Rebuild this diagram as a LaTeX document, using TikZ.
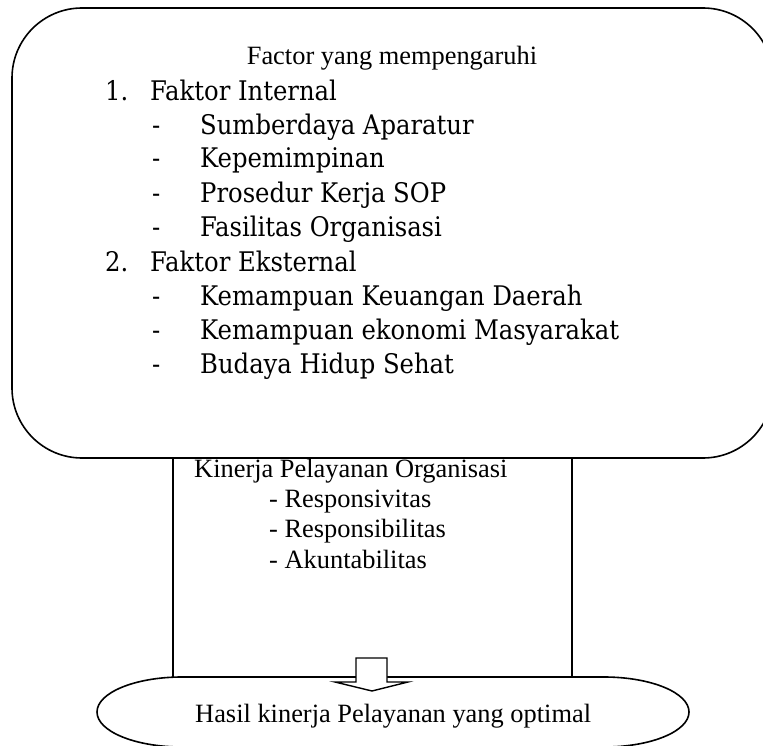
\documentclass[tikz,border=0pt]{standalone}
\usepackage{fontspec}
\setmainfont{Liberation Serif}
\newfontfamily\listfont{DejaVu Serif Condensed}
\begin{document}
\begin{tikzpicture}[x=1pt,y=-1pt,
  shapeline/.style={line width=1.6pt, draw=black},
  timestext/.style={inner sep=0pt, font=\fontsize{26.4}{30}\selectfont},
  listtext/.style={inner sep=0pt, anchor=base west, font=\listfont\fontsize{27}{32}\selectfont}]
\useasboundingbox (0,0) rectangle (763,746);
% performance box (side lines)
\draw[shapeline] (173,440) -- (173,677) (572,440) -- (572,677);
% factor rounded box
\draw[shapeline, fill=white, rounded corners=70pt] (12,8) rectangle (773,458);
% result terminator shape
\draw[shapeline, fill=white] (182,677) -- (604,677)
  arc[start angle=90, end angle=-90, x radius=85pt, y radius=35pt]
  -- (182,747)
  arc[start angle=270, end angle=90, x radius=85pt, y radius=35pt] -- cycle;
% block arrow
\draw[shapeline, fill=white, line width=1.4pt] (356,658) -- (387,658) -- (387,682) -- (408,682)
  -- (372,691) -- (335,682) -- (356,682) -- cycle;
% texts
\node[timestext, anchor=base] (title) at (392,65) {Factor yang mempengaruhi};
\node[listtext] (n1) at (105,101) {1.};
\node[listtext] (f1) at (150,101) {Faktor Internal};
\foreach \yy/\tt [count=\i] in {135/Sumberdaya Aparatur,168/Kepemimpinan,202.5/Prosedur Kerja SOP,236.5/Fasilitas Organisasi}{
  \node[listtext] (d1\i) at (152,\yy) {-};
  \node[listtext] (i1\i) at (200,\yy) {\tt};
}
\node[listtext] (n2) at (105,271.5) {2.};
\node[listtext] (f2) at (150,271.5) {Faktor Eksternal};
\foreach \yy/\tt [count=\i] in {305/Kemampuan Keuangan Daerah,339/Kemampuan ekonomi Masyarakat,373/Budaya Hidup Sehat}{
  \node[listtext] (d2\i) at (152,\yy) {-};
  \node[listtext] (i2\i) at (200,\yy) {\tt};
}
\node[timestext, anchor=base west] (kin) at (194,477) {Kinerja Pelayanan Organisasi};
\node[timestext, anchor=base west] (k1) at (269,507) {- Responsivitas};
\node[timestext, anchor=base west] (k2) at (269,537) {- Responsibilitas};
\node[timestext, anchor=base west] (k3) at (269,568) {- Akuntabilitas};
\node[timestext, anchor=base west] (hasil) at (195,722) {Hasil kinerja Pelayanan yang optimal};
\end{tikzpicture}
\end{document}
